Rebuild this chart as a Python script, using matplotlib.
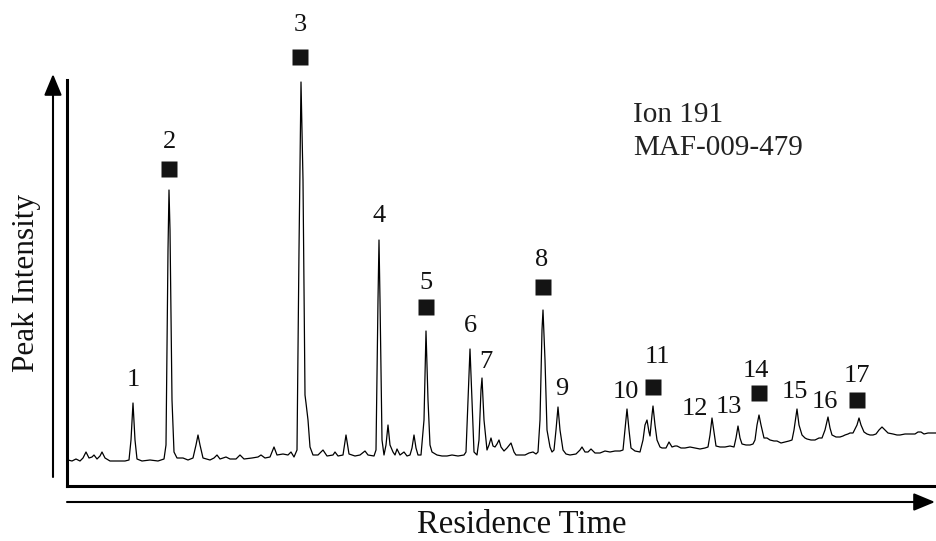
import numpy as np
import matplotlib
matplotlib.use("Agg")
import matplotlib.pyplot as plt
from matplotlib.patches import FancyArrowPatch
from matplotlib.transforms import offset_copy

# Ion chromatogram trace (arbitrary time / intensity units)
time = [1, 5, 9, 13, 16, 19, 22, 25, 27, 30, 33, 35, 38, 43, 51, 58, 62, 64, 66, 68,
        70, 75, 83, 91, 97, 99, 101, 102, 103, 105, 107, 110, 116, 121, 126, 129, 131, 133, 136, 143,
        147, 150, 153, 159, 163, 169, 173, 177, 185, 191, 194, 198, 203, 207, 210, 216, 221, 224, 227, 230,
        232, 234, 236, 238, 239, 241, 243, 246, 251, 256, 260, 266, 268, 271, 276, 279, 282, 288, 293, 298,
        301, 307, 309, 311, 312, 313, 315, 317, 319, 321, 323, 326, 328, 330, 333, 337, 340, 343, 345, 347,
        349, 351, 354, 357, 359, 361, 363, 365, 370, 375, 380, 385, 391, 397, 399, 401, 403, 405, 407, 410,
        412, 414, 415, 417, 420, 422, 424, 426, 428, 430, 432, 434, 437, 440, 444, 447, 449, 454, 458, 462,
        466, 469, 471, 473, 475, 476, 478, 480, 483, 485, 487, 489, 491, 493, 496, 499, 503, 509, 513, 515,
        518, 521, 524, 528, 533, 538, 543, 548, 553, 556, 558, 560, 562, 564, 568, 573, 576, 578, 580, 582,
        583, 585, 586, 588, 590, 593, 595, 599, 602, 605, 608, 610, 614, 618, 623, 628, 633, 638, 641, 643,
        645, 647, 649, 653, 658, 663, 667, 669, 671, 673, 675, 679, 683, 686, 688, 690, 692, 694, 697, 700,
        703, 707, 710, 714, 718, 722, 725, 727, 730, 732, 735, 738, 740, 744, 748, 752, 755, 758, 761, 763,
        765, 769, 773, 776, 778, 781, 783, 786, 790, 792, 794, 797, 800, 803, 806, 809, 812, 815, 818, 821,
        826, 830, 833, 838, 843, 848, 851, 854, 857, 861, 865, 869]
intensity = [26, 25, 27, 25, 28, 34, 28, 29, 31, 27, 30, 34, 28, 25, 25, 25, 26, 46, 83, 46,
             27, 25, 26, 25, 27, 41, 236, 296, 256, 86, 34, 28, 28, 26, 28, 41, 51, 41, 28, 26,
             28, 31, 27, 29, 27, 27, 31, 27, 28, 29, 31, 28, 29, 39, 31, 32, 31, 34, 29, 36,
             236, 404, 306, 91, 83, 66, 39, 31, 31, 36, 30, 31, 34, 30, 31, 51, 32, 30, 31, 35,
             31, 30, 36, 186, 246, 186, 46, 31, 41, 61, 41, 34, 31, 37, 31, 34, 30, 31, 38, 51,
             38, 31, 31, 66, 155, 86, 41, 34, 31, 30, 30, 31, 30, 31, 34, 86, 137, 86, 34, 31,
             46, 96, 108, 66, 36, 41, 48, 40, 39, 42, 46, 39, 35, 38, 43, 34, 31, 31, 31, 33,
             34, 32, 34, 66, 156, 176, 126, 56, 39, 34, 36, 56, 79, 56, 36, 32, 31, 32, 36, 39,
             34, 34, 37, 33, 33, 35, 34, 35, 35, 36, 56, 77, 56, 38, 35, 34, 46, 61, 66, 54,
             50, 71, 80, 61, 46, 39, 38, 38, 44, 39, 40, 40, 38, 38, 39, 38, 37, 38, 39, 51,
             68, 54, 40, 39, 39, 40, 39, 48, 60, 48, 42, 41, 41, 42, 46, 61, 71, 61, 48, 48,
             46, 45, 45, 43, 44, 45, 46, 56, 77, 61, 51, 48, 47, 46, 46, 48, 48, 56, 69, 58,
             51, 49, 49, 50, 51, 52, 53, 53, 61, 68, 61, 54, 52, 51, 51, 52, 56, 59, 56, 53,
             52, 51, 51, 52, 52, 52, 54, 54, 52, 53, 53, 53]

# Numbered peaks; True = marked with a square
peak_labels = ["1", "2", "3", "4", "5", "6", "7", "8", "9", "10",
               "11", "12", "13", "14", "15", "16", "17"]
peak_times = [66, 102, 234, 312, 359, 403, 415, 476, 491, 560,
              586, 645, 671, 692, 730, 761, 792]
peak_marked = [False, True, True, False, True, False, False, True, False, False,
               True, False, False, True, False, False, True]

sample_info = ["Ion 191", "MAF-009-479"]

# label placement (pixels from the peak apex, label centre)
label_dx = [0, 0, -1, 0, 0, 0, 4, -1, 4, -1, 4, -17, -9, -3, -2, -3, -2]
label_dy = [26, 51, 60, 27, 51, 26, 19, 53, 21, 20, 52, 12, 22, 47, 20, 18, 45]
square_dx = [0, 0, -1, 0, 0, 0, 0, 0, 0, 0, 0, 0, 0, 0, 0, 0, -2]
square_dy = [0, 21, 25, 0, 24, 0, 0, 23, 0, 0, 19, 0, 0, 22, 0, 0, 18]

plt.rcParams["font.family"] = ["Liberation Serif", "DejaVu Serif"]

W, H = 936, 541
fig = plt.figure(figsize=(W / 100, H / 100), dpi=100)
ax = fig.add_axes([67 / W, (H - 486) / H, 869 / W, 406 / H])
ax.set_xlim(0, 869)
ax.set_ylim(0, 406)

ax.plot(time, intensity, color="black", lw=0.9, solid_joinstyle="round")

apex = np.interp(peak_times, time, intensity)
for i, lab in enumerate(peak_labels):
    if peak_marked[i]:
        tr = offset_copy(ax.transData, fig=fig, x=square_dx[i], y=square_dy[i], units="dots")
        ax.plot([peak_times[i]], [apex[i]], marker="s", ms=11, color="#141414",
                mec="none", transform=tr, clip_on=False)
    ax.annotate(lab, (peak_times[i], apex[i]), xytext=(label_dx[i], label_dy[i] - 9),
                textcoords="offset pixels", ha="center", va="baseline",
                fontsize=19, color="#111111", annotation_clip=False)

ax.text(0.651, 0.8966, sample_info[0], transform=ax.transAxes, fontsize=21,
        color="#222222", ha="left", va="baseline")
ax.text(0.651, 0.815, sample_info[1], transform=ax.transAxes, fontsize=21,
        color="#222222", ha="left", va="baseline")

for s in ["top", "right"]:
    ax.spines[s].set_visible(False)
for s in ["left", "bottom"]:
    ax.spines[s].set_linewidth(2.2)
    ax.spines[s].set_color("black")
ax.set_xticks([])
ax.set_yticks([])
ax.patch.set_alpha(0)

# axis arrows
fig.patches.append(FancyArrowPatch((53 / W, (H - 477) / H), (53 / W, (H - 74) / H),
                                   transform=fig.transFigure, arrowstyle="-|>,head_length=13,head_width=5.4",
                                   mutation_scale=1, lw=1.5, color="black", shrinkA=0, shrinkB=0))
fig.patches.append(FancyArrowPatch((67 / W, (H - 502) / H), (935 / W, (H - 502) / H),
                                   transform=fig.transFigure, arrowstyle="-|>,head_length=13,head_width=5.4",
                                   mutation_scale=1, lw=1.5, color="black", shrinkA=0, shrinkB=0))

fig.text(27 / W, (H - 283) / H, "Peak Intensity", rotation=90, fontsize=22.5,
         ha="center", va="center", color="#111111")
fig.text(522 / W, 1 / H, "Residence Time", fontsize=23.5, ha="center", va="bottom",
         color="#111111")

fig.savefig("out.png", dpi=100, facecolor="white")
